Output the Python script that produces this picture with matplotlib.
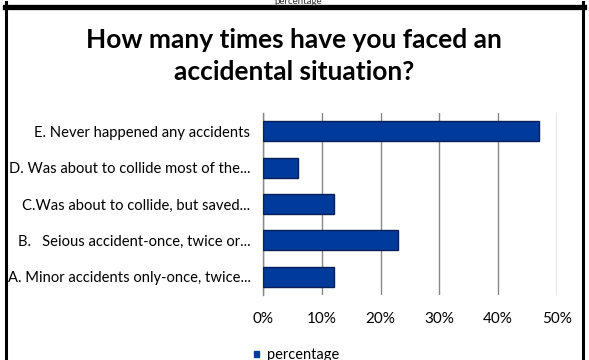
import numpy as np
import matplotlib
matplotlib.use("Agg")
from matplotlib import pyplot as plt
from matplotlib.lines import Line2D
from matplotlib.patches import Rectangle

# answers, bottom to top as they are drawn
answers = ["A. Minor accidents only-once, twice...",
           "B.   Seious accident-once, twice or...",
           "C.Was about to collide, but saved...",
           "D. Was about to collide most of the...",
           "E. Never happened any accidents"]
share = [0.12, 0.23, 0.12, 0.06, 0.47]
x_ticks = [0.0, 0.1, 0.2, 0.3, 0.4, 0.5]
x_tick_labels = ["0%", "10%", "20%", "30%", "40%", "50%"]
series_name = "percentage"
title = "How many times have you faced an\naccidental situation?"

W, H = 589, 360
plt.rcParams['font.family'] = ['Lato', 'DejaVu Sans']

fig = plt.figure(figsize=(W / 100, H / 100), dpi=100)
fig.patch.set_facecolor("white")

def px(x, y):
    # pixel position from the top-left corner -> figure fraction
    return x / W, 1 - y / H

# frame around the chart box
fig.add_artist(Line2D([5 / W, 584 / W], [1 - 6.5 / H] * 2, color="black", lw=3.8))
fig.add_artist(Line2D([6 / W] * 2, [0, 1 - 2 / H], color="black", lw=2.2))
fig.add_artist(Line2D([582.5 / W] * 2, [0, 1 - 2 / H], color="black", lw=2.2))

# bottom of the legend of the chart above, cut by the edge
fig.text(*px(298, 1.5), series_name, ha="center", va="center", fontsize=7, color="#333333")

fig.text(*px(294, 56), title, ha="center", va="center", fontsize=19,
         fontweight="bold", linespacing=1.4)

left, right = 263 / W, 557 / W
top, bottom = 1 - 113 / H, 1 - 295 / H
ax = fig.add_axes([left, bottom, right - left, top - bottom])

y = np.arange(len(answers))
ax.barh(y, share, height=0.55, color="#003b9c", edgecolor="#0a1f55", linewidth=1.0, zorder=3)

ax.set_xlim(0, 0.5)
ax.set_ylim(-0.5, len(answers) - 0.5)
ax.set_xticks(x_ticks)
ax.set_xticklabels(x_tick_labels, fontsize=11)
ax.set_yticks(y)
ax.set_yticklabels(answers, fontsize=10.6)
ax.tick_params(axis="y", length=0, pad=9)
ax.tick_params(axis="x", length=0, pad=12)
ax.grid(axis="x", color="#888888", linewidth=1.0, zorder=0)
for s in ["top", "right", "bottom"]:
    ax.spines[s].set_visible(False)
ax.spines["left"].set_color("#888888")
ax.spines["left"].set_linewidth(1.0)

# legend entry at the bottom
fig.add_artist(Rectangle(px(254, 357), 5 / W, 6 / H, color="#003b9c"))
fig.text(*px(267, 358.5), series_name, ha="left", va="baseline", fontsize=10.5)

fig.savefig("out.png", dpi=100)
